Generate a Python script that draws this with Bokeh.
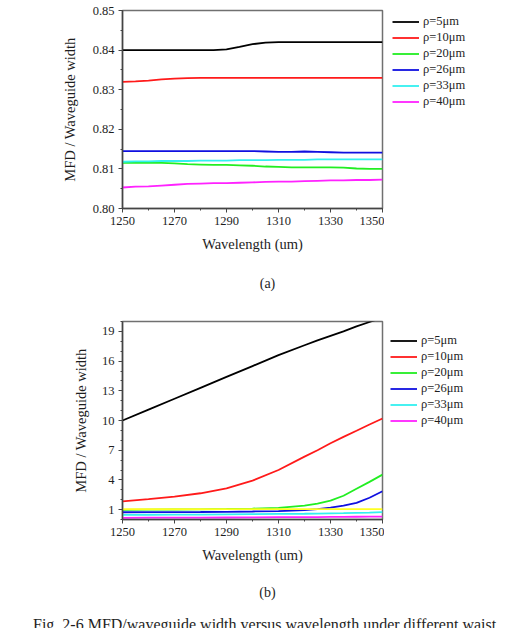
from bokeh.plotting import figure
from bokeh.models import Legend, LegendItem, FixedTicker, PrintfTickFormatter, Range1d, Div
from bokeh.layouts import column, row
from bokeh.embed import file_html
from bokeh.resources import INLINE

# ---------------- data: chart (a) ----------------
wl_a = [1250, 1255, 1260, 1265, 1270, 1275, 1280, 1285, 1290, 1295, 1300,
        1305, 1310, 1315, 1320, 1325, 1330, 1335, 1340, 1345, 1350]
a_rho5 = [0.8400, 0.8400, 0.8400, 0.8400, 0.8400, 0.8400, 0.8400, 0.8400, 0.8402, 0.8408, 0.8415,
          0.8419, 0.8420, 0.8420, 0.8420, 0.8420, 0.8420, 0.8420, 0.8420, 0.8420, 0.8420]
a_rho10 = [0.8320, 0.8321, 0.8323, 0.8326, 0.8328, 0.8329, 0.8330, 0.8330, 0.8330, 0.8330, 0.8330,
           0.8330, 0.8330, 0.8330, 0.8330, 0.8330, 0.8330, 0.8330, 0.8330, 0.8330, 0.8330]
a_rho20 = [0.8115, 0.8115, 0.8115, 0.8115, 0.8114, 0.8112, 0.8111, 0.8110, 0.8110, 0.8109, 0.8108,
           0.8106, 0.8105, 0.8104, 0.8104, 0.8104, 0.8104, 0.8103, 0.8101, 0.8100, 0.8100]
a_rho26 = [0.8145, 0.8145, 0.8145, 0.8145, 0.8145, 0.8145, 0.8145, 0.8145, 0.8145, 0.8145, 0.8145,
           0.8144, 0.8143, 0.8143, 0.8144, 0.8143, 0.8142, 0.8141, 0.8141, 0.8141, 0.8141]
a_rho33 = [0.8118, 0.8119, 0.8119, 0.8120, 0.8120, 0.8120, 0.8121, 0.8121, 0.8121, 0.8122, 0.8122,
           0.8122, 0.8123, 0.8123, 0.8123, 0.8124, 0.8124, 0.8124, 0.8124, 0.8124, 0.8124]
a_rho40 = [0.8053, 0.8055, 0.8056, 0.8058, 0.8060, 0.8062, 0.8063, 0.8064, 0.8064, 0.8065, 0.8066,
           0.8067, 0.8068, 0.8068, 0.8069, 0.8070, 0.8071, 0.8071, 0.8072, 0.8072, 0.8073]

# ---------------- data: chart (b) ----------------
wl_b = [1250, 1260, 1270, 1280, 1290, 1300, 1310, 1320, 1325, 1330, 1335, 1340, 1345, 1350]
b_rho5 = [10.0, 11.1, 12.2, 13.3, 14.4, 15.5, 16.6, 17.6, 18.1, 18.55, 19.0, 19.5, 19.95, 20.4]
b_rho10 = [1.84, 2.05, 2.31, 2.65, 3.15, 3.93, 5.0, 6.35, 7.0, 7.7, 8.35, 8.97, 9.6, 10.2]
b_rho20 = [0.97, 0.99, 1.01, 1.03, 1.06, 1.10, 1.17, 1.40, 1.60, 1.90, 2.40, 3.10, 3.80, 4.53]
b_rho26 = [0.73, 0.74, 0.75, 0.76, 0.78, 0.81, 0.85, 0.95, 1.05, 1.20, 1.40, 1.68, 2.20, 2.85]
b_extra = [1.05, 1.05, 1.05, 1.05, 1.05, 1.05, 1.05, 1.05, 1.05, 1.05, 1.05, 1.05, 1.05, 1.05]
b_rho33 = [0.47, 0.48, 0.49, 0.50, 0.52, 0.54, 0.56, 0.58, 0.60, 0.62, 0.64, 0.67, 0.70, 0.75]
b_rho40 = [0.17, 0.18, 0.18, 0.19, 0.20, 0.21, 0.23, 0.24, 0.25, 0.26, 0.27, 0.28, 0.29, 0.30]

labels = ["ρ=5μm", "ρ=10μm", "ρ=20μm", "ρ=26μm", "ρ=33μm", "ρ=40μm"]
colors = ["#000000", "#ff1a1a", "#22ee22", "#1010e0", "#33f0f0", "#ff22ff"]
extra_color = "#ffff22"

x_ticks = [1250, 1270, 1290, 1310, 1330, 1350]
x_minor = [1250, 1260, 1270, 1280, 1290, 1300, 1310, 1320, 1330, 1340, 1350]
a_yticks = [0.80, 0.81, 0.82, 0.83, 0.84, 0.85]
a_yminor = [0.800, 0.805, 0.810, 0.815, 0.820, 0.825, 0.830, 0.835, 0.840, 0.845, 0.850]
b_yticks = [1, 4, 7, 10, 13, 16, 19]
b_yminor = list(range(0, 21))

SERIF = "'Liberation Serif', serif"
TXT = "#1e1e1e"
PLOT_W = 384
LEG_W = 529 - PLOT_W


def make_fig(height, top, bottom, yr, yticks, yminor, ylab_standoff):
    p = figure(width=PLOT_W, height=height, x_range=Range1d(1250, 1350), y_range=Range1d(*yr),
               output_backend="svg", toolbar_location=None,
               min_border_left=122, min_border_right=2, min_border_top=top,
               min_border_bottom=bottom)
    p.xgrid.visible = False
    p.ygrid.visible = False
    p.outline_line_color = "#707070"
    p.outline_line_width = 1.5
    p.xaxis.ticker = FixedTicker(ticks=x_ticks, minor_ticks=x_minor)
    p.yaxis.ticker = FixedTicker(ticks=yticks, minor_ticks=yminor)
    for ax in (p.xaxis[0], p.yaxis[0]):
        ax.axis_line_color = "#444444"
        ax.axis_line_width = 1.5
        ax.major_tick_line_color = "#444444"
        ax.minor_tick_line_color = "#444444"
        ax.major_tick_out = 4
        ax.major_tick_in = 0
        ax.minor_tick_out = 2
        ax.minor_tick_in = 0
        ax.major_label_text_font = SERIF
        ax.major_label_text_font_size = "12.5px"
        ax.major_label_text_color = TXT
        ax.major_label_standoff = 4
        ax.axis_label_text_font = SERIF
        ax.axis_label_text_font_size = "14.5px"
        ax.axis_label_text_font_style = "normal"
        ax.axis_label_text_color = TXT
    p.xaxis.axis_label = "Wavelength (um)"
    p.xaxis.axis_label_standoff = 8
    p.yaxis.axis_label = "MFD / Waveguide width"
    p.yaxis.axis_label_standoff = ylab_standoff
    return p


def make_legend_fig(height, vx, vy, series_colors):
    lf = figure(width=LEG_W, height=height, x_range=Range1d(0, 1), y_range=Range1d(0, 1),
                output_backend="svg", toolbar_location=None, min_border=0)
    lf.axis.visible = False
    lf.grid.visible = False
    lf.outline_line_alpha = 0
    # legend-only renderers: their points lie outside the visible range
    rs = [lf.line([-5, -4], [-5, -4], line_color=c, line_width=1.8) for c in series_colors]
    items = [LegendItem(label=l, renderers=[r]) for l, r in zip(labels, rs)]
    leg = Legend(items=items, location=(vx, vy), padding=0, margin=0, spacing=1,
                 label_height=15, glyph_height=15, glyph_width=27, label_standoff=4,
                 label_text_font=SERIF, label_text_font_size="12.5px", label_text_color=TXT,
                 border_line_alpha=0, background_fill_alpha=0)
    lf.add_layout(leg, "center")
    return lf


# chart (a)
pa = make_fig(270, 10, 62, (0.80, 0.85), a_yticks, a_yminor, 12)
pa.yaxis.formatter = PrintfTickFormatter(format="%.2f")
for vals, c in zip([a_rho5, a_rho10, a_rho20, a_rho26, a_rho33, a_rho40], colors):
    pa.line(wl_a, vals, line_color=c, line_width=1.8)
la = make_legend_fig(270, 8, 99, colors)

# chart (b)
pb = make_fig(268, 21, 49, (0, 20), b_yticks, b_yminor, 10)
for vals, c in zip([b_rho5, b_rho10, b_rho20, b_rho26], colors[:4]):
    pb.line(wl_b, vals, line_color=c, line_width=1.8)
pb.line(wl_b, b_extra, line_color=extra_color, line_width=1.8)
for vals, c in zip([b_rho33, b_rho40], colors[4:]):
    pb.line(wl_b, vals, line_color=c, line_width=1.8)
lb = make_legend_fig(268, 6, 91, colors)

CAP = "font-family:'Liberation Serif';color:#1e1e1e;width:529px;"
div_a = Div(text=f"<div style=\"{CAP}font-size:14px;line-height:28px;text-align:center;padding-left:6px;\">(a)</div>",
            width=529, height=30, margin=0, styles={"overflow": "hidden"})
div_b = Div(text=f"<div style=\"{CAP}font-size:14px;line-height:28px;padding-top:11px;text-align:center;padding-left:6px;\">(b)</div>",
            width=529, height=40, margin=0, styles={"overflow": "hidden"})
div_c = Div(text=f"<div style=\"{CAP}font-size:16px;line-height:18px;padding-top:8px;padding-left:33px;white-space:nowrap;\">Fig. 2-6 MFD/waveguide width versus wavelength under different waist</div>",
            width=529, height=20, margin=0, styles={"overflow": "hidden"})

layout = column(row(pa, la, spacing=0), div_a, row(pb, lb, spacing=0), div_b, div_c, spacing=0)
open("out.html", "w").write(file_html(layout, INLINE))
